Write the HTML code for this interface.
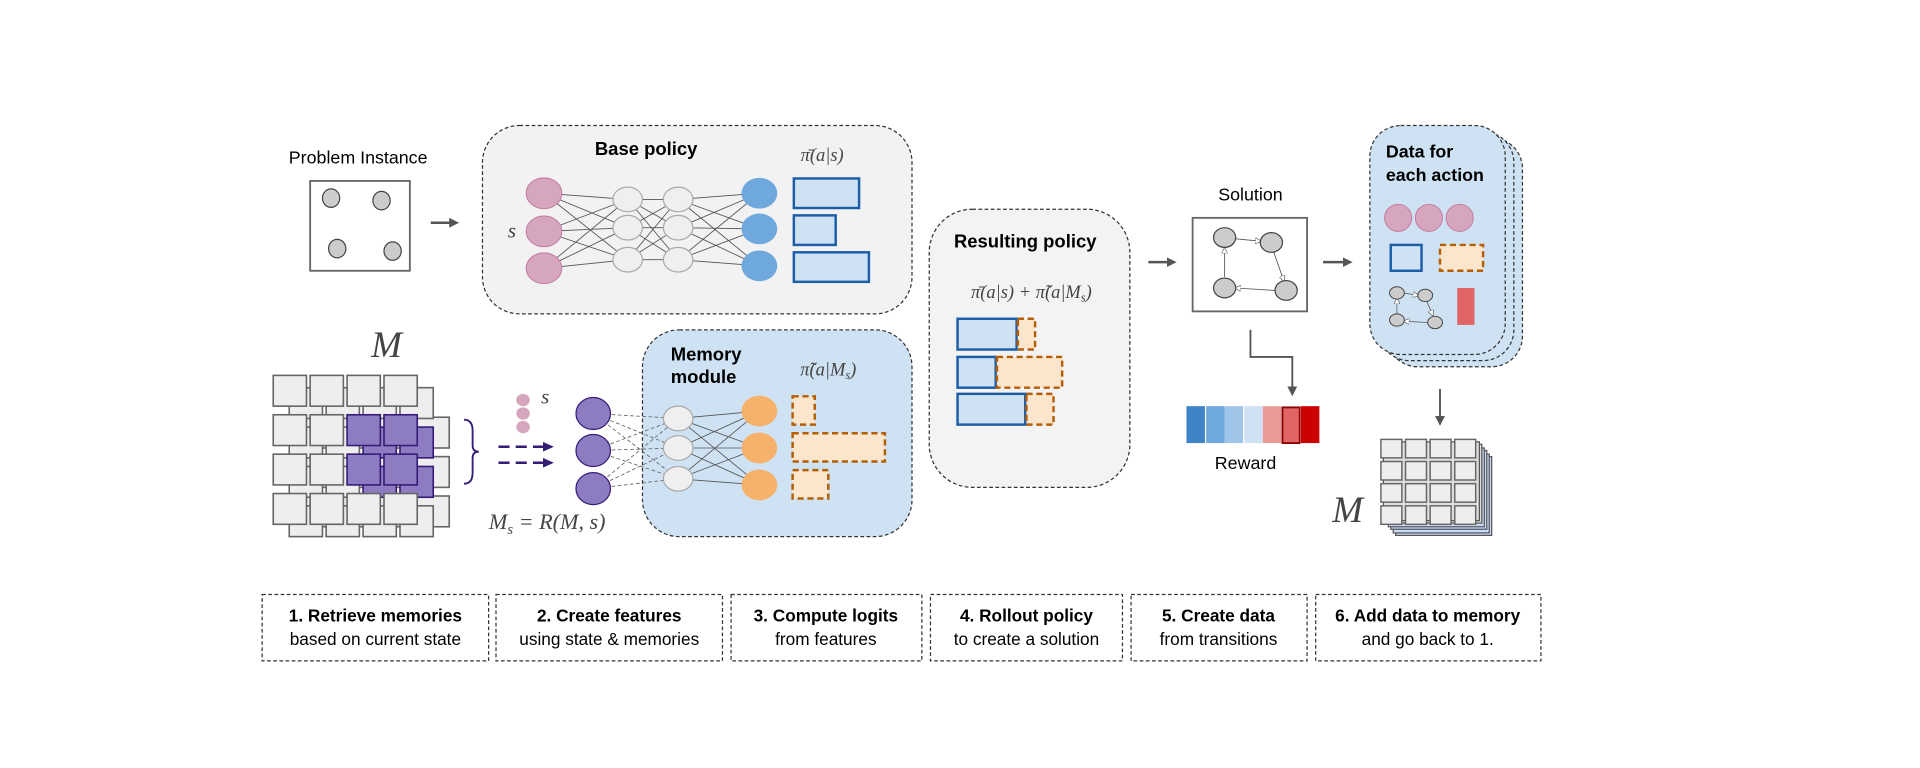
<!DOCTYPE html>
<html><head><meta charset="utf-8"><style>
html,body{margin:0;padding:0;background:#fff;}
svg{display:block;}
text{font-family:"Liberation Sans",sans-serif;}
.m{font-family:"Liberation Serif",serif;font-style:italic;fill:#444;}
</style></head><body>
<svg width="1920" height="768" viewBox="0 0 1560 624" xmlns="http://www.w3.org/2000/svg">
<defs>
<marker id="ar" markerWidth="8" markerHeight="8" refX="6" refY="4" orient="auto" markerUnits="userSpaceOnUse"><path d="M0,0 L8,4 L0,8 z" fill="#555"/></marker>
<marker id="ap" markerWidth="9" markerHeight="8" refX="7" refY="4" orient="auto" markerUnits="userSpaceOnUse"><path d="M0,0 L9,4 L0,8 z" fill="#351c75"/></marker>
<marker id="as" markerWidth="5" markerHeight="5" refX="4" refY="2.5" orient="auto" markerUnits="userSpaceOnUse"><path d="M0,0 L5,2.5 L0,5 z" fill="#fff" stroke="#666" stroke-width="0.6"/></marker>
</defs>

<!-- Problem instance -->
<text x="291" y="133" font-size="14.5" text-anchor="middle">Problem Instance</text>
<rect x="252" y="147" width="81" height="73" fill="#fff" stroke="#666" stroke-width="1.5"/>
<g fill="#ccc" stroke="#444" stroke-width="1">
<ellipse cx="269" cy="161" rx="7" ry="7.5"/><ellipse cx="310" cy="163" rx="7" ry="7.5"/>
<ellipse cx="274" cy="202" rx="7" ry="7.5"/><ellipse cx="319" cy="204" rx="7" ry="7.5"/>
</g>
<line x1="350" y1="181" x2="371" y2="181" stroke="#555" stroke-width="2" marker-end="url(#ar)"/>

<!-- Base policy -->
<rect x="392" y="102" width="349" height="153" rx="30" fill="#f2f2f2" stroke="#333" stroke-dasharray="3,2"/>
<text x="525" y="126" font-size="15" font-weight="bold" text-anchor="middle">Base policy</text>
<text x="668" y="131" font-size="15" class="m" text-anchor="middle">π̄(a|s)</text>
<text x="416" y="193" font-size="17" class="m" text-anchor="middle" fill="#222">s</text>
<g stroke="#555" stroke-width="0.7">
<path d="M442,157L510,162M442,157L510,185M442,157L510,211M442,188L510,162M442,188L510,185M442,188L510,211M442,218L510,162M442,218L510,185M442,218L510,211"/>
<path d="M510,162L551,162M510,162L551,185M510,162L551,211M510,185L551,162M510,185L551,185M510,185L551,211M510,211L551,162M510,211L551,185M510,211L551,211"/>
<path d="M551,162L617,157M551,162L617,186M551,162L617,216M551,185L617,157M551,185L617,186M551,185L617,216M551,211L617,157M551,211L617,186M551,211L617,216"/>
</g>
<g fill="#d5a6bd" stroke="#c27ba0" stroke-width="0.8"><ellipse cx="442" cy="157" rx="14.5" ry="12.5"/><ellipse cx="442" cy="188" rx="14.5" ry="12.5"/><ellipse cx="442" cy="218" rx="14.5" ry="12.5"/></g>
<g fill="#efefef" stroke="#aaa"><ellipse cx="510" cy="162" rx="12" ry="10"/><ellipse cx="510" cy="185" rx="12" ry="10"/><ellipse cx="510" cy="211" rx="12" ry="10"/><ellipse cx="551" cy="162" rx="12" ry="10"/><ellipse cx="551" cy="185" rx="12" ry="10"/><ellipse cx="551" cy="211" rx="12" ry="10"/></g>
<g fill="#6fa8dc"><ellipse cx="617" cy="157" rx="14.5" ry="12.5"/><ellipse cx="617" cy="186" rx="14.5" ry="12.5"/><ellipse cx="617" cy="216" rx="14.5" ry="12.5"/></g>
<g fill="#cfe2f3" stroke="#1c5ea8" stroke-width="2"><rect x="645" y="145" width="53" height="24"/><rect x="645" y="175" width="34" height="24"/><rect x="645" y="205" width="61" height="24"/></g>

<!-- Memory grid left -->
<text x="314" y="290" font-size="30" class="m" fill="#222" text-anchor="middle">M</text>
<g stroke="#666" stroke-width="1.3">
<g transform="translate(26,34)" fill="#eee">
<rect x="222" y="305" width="27" height="25"/><rect x="252" y="305" width="27" height="25"/><rect x="282" y="305" width="27" height="25"/><rect x="312" y="305" width="27" height="25"/>
<rect x="222" y="337" width="27" height="25"/><rect x="252" y="337" width="27" height="25"/><rect x="282" y="337" width="27" height="25"/><rect x="312" y="337" width="27" height="25"/>
<rect x="222" y="369" width="27" height="25"/><rect x="252" y="369" width="27" height="25"/><rect x="282" y="369" width="27" height="25"/><rect x="312" y="369" width="27" height="25"/>
</g>
<g transform="translate(13,10)" fill="#eee">
<rect x="222" y="305" width="27" height="25"/><rect x="252" y="305" width="27" height="25"/><rect x="282" y="305" width="27" height="25"/><rect x="312" y="305" width="27" height="25"/>
<rect x="222" y="337" width="27" height="25"/><rect x="252" y="337" width="27" height="25"/><rect x="282" y="337" width="27" height="25" fill="#8e7cc3" stroke="#351c75"/><rect x="312" y="337" width="27" height="25" fill="#8e7cc3" stroke="#351c75"/>
<rect x="222" y="369" width="27" height="25"/><rect x="252" y="369" width="27" height="25"/><rect x="282" y="369" width="27" height="25" fill="#8e7cc3" stroke="#351c75"/><rect x="312" y="369" width="27" height="25" fill="#8e7cc3" stroke="#351c75"/>
<rect x="222" y="401" width="27" height="25"/><rect x="252" y="401" width="27" height="25"/><rect x="282" y="401" width="27" height="25"/><rect x="312" y="401" width="27" height="25"/>
</g>
<g fill="#eee">
<rect x="222" y="305" width="27" height="25"/><rect x="252" y="305" width="27" height="25"/><rect x="282" y="305" width="27" height="25"/><rect x="312" y="305" width="27" height="25"/>
<rect x="222" y="337" width="27" height="25"/><rect x="252" y="337" width="27" height="25"/><rect x="282" y="337" width="27" height="25" fill="#8e7cc3" stroke="#351c75"/><rect x="312" y="337" width="27" height="25" fill="#8e7cc3" stroke="#351c75"/>
<rect x="222" y="369" width="27" height="25"/><rect x="252" y="369" width="27" height="25"/><rect x="282" y="369" width="27" height="25" fill="#8e7cc3" stroke="#351c75"/><rect x="312" y="369" width="27" height="25" fill="#8e7cc3" stroke="#351c75"/>
<rect x="222" y="401" width="27" height="25"/><rect x="252" y="401" width="27" height="25"/><rect x="282" y="401" width="27" height="25"/><rect x="312" y="401" width="27" height="25"/>
</g>
</g>
<path d="M377,341 Q384,341 384,350 L384,362 Q384,367 389,367 Q384,367 384,372 L384,384 Q384,393 377,393" fill="none" stroke="#351c75" stroke-width="1.5"/>
<text x="492" y="430" font-size="18" class="m" fill="#444" text-anchor="end">M<tspan font-size="12" dy="4">s</tspan><tspan dy="-4"> = R(M, s)</tspan></text>
<g fill="#d5a6bd"><ellipse cx="425" cy="325" rx="5.5" ry="5"/><ellipse cx="425" cy="336" rx="5.5" ry="5"/><ellipse cx="425" cy="347" rx="5.5" ry="5"/></g>
<text x="443" y="328" font-size="17" class="m" fill="#222" text-anchor="middle">s</text>
<g stroke="#351c75" stroke-width="2" stroke-dasharray="9,5"><line x1="405" y1="363" x2="448" y2="363" marker-end="url(#ap)"/><line x1="405" y1="376" x2="448" y2="376" marker-end="url(#ap)"/></g>

<!-- Memory module -->
<rect x="522" y="268" width="219" height="168" rx="30" fill="#cfe2f3" stroke="#333" stroke-dasharray="3,2"/>
<text x="545" y="293" font-size="15" font-weight="bold">Memory</text>
<text x="545" y="311" font-size="15" font-weight="bold">module</text>
<text x="673" y="305" font-size="15" class="m" text-anchor="middle">π̃(a|M<tspan font-size="10" dy="3">s</tspan><tspan dy="-3">)</tspan></text>
<g stroke="#666" stroke-width="0.7" stroke-dasharray="3,2">
<path d="M482,336L551,340M482,336L551,364M482,336L551,389M482,366L551,340M482,366L551,364M482,366L551,389M482,397L551,340M482,397L551,364M482,397L551,389"/>
</g>
<g stroke="#555" stroke-width="0.7"><path d="M551,340L617,334M551,340L617,364M551,340L617,394M551,364L617,334M551,364L617,364M551,364L617,394M551,389L617,334M551,389L617,364M551,389L617,394"/></g>
<g fill="#8e7cc3" stroke="#351c75"><ellipse cx="482" cy="336" rx="14" ry="13"/><ellipse cx="482" cy="366" rx="14" ry="13"/><ellipse cx="482" cy="397" rx="14" ry="13"/></g>
<g fill="#efefef" stroke="#aaa"><ellipse cx="551" cy="340" rx="12" ry="10"/><ellipse cx="551" cy="364" rx="12" ry="10"/><ellipse cx="551" cy="389" rx="12" ry="10"/></g>
<g fill="#f6b26b"><ellipse cx="617" cy="334" rx="14.5" ry="12.5"/><ellipse cx="617" cy="364" rx="14.5" ry="12.5"/><ellipse cx="617" cy="394" rx="14.5" ry="12.5"/></g>
<g fill="#fce5cd" stroke="#b45f06" stroke-width="2" stroke-dasharray="5,3"><rect x="644" y="322" width="18" height="23"/><rect x="644" y="352" width="75" height="23"/><rect x="644" y="382" width="29" height="23"/></g>

<!-- Resulting policy -->
<rect x="755" y="170" width="163" height="226" rx="35" fill="#f3f3f3" stroke="#333" stroke-dasharray="3,2"/>
<text x="833" y="201" font-size="15" font-weight="bold" text-anchor="middle">Resulting policy</text>
<text x="838" y="242" font-size="15" class="m" text-anchor="middle">π̄(a|s) + π̃(a|M<tspan font-size="10" dy="3">s</tspan><tspan dy="-3">)</tspan></text>
<g fill="#cfe2f3" stroke="#1c5ea8" stroke-width="2"><rect x="778" y="259" width="48" height="25"/><rect x="778" y="290" width="31" height="25"/><rect x="778" y="320" width="55" height="25"/></g>
<g fill="#fce5cd" stroke="#b45f06" stroke-width="2" stroke-dasharray="5,3"><rect x="827" y="259" width="14" height="25"/><rect x="810" y="290" width="53" height="25"/><rect x="834" y="320" width="22" height="25"/></g>
<line x1="933" y1="213" x2="954" y2="213" stroke="#555" stroke-width="2" marker-end="url(#ar)"/>

<!-- Solution -->
<text x="1016" y="163" font-size="14.5" text-anchor="middle">Solution</text>
<rect x="969" y="177" width="93" height="76" fill="#fff" stroke="#666" stroke-width="1.5"/>
<g stroke="#555" stroke-width="0.7" fill="none">
<line x1="1004" y1="194" x2="1024" y2="196" marker-end="url(#as)"/>
<line x1="1035" y1="205" x2="1043" y2="228" marker-end="url(#as)"/>
<line x1="1036" y1="236" x2="1004" y2="234" marker-end="url(#as)"/>
<line x1="995" y1="225" x2="995" y2="202" marker-end="url(#as)"/>
</g>
<g fill="#ccc" stroke="#444"><ellipse cx="995" cy="193" rx="9" ry="8"/><ellipse cx="1033" cy="197" rx="9" ry="8"/><ellipse cx="995" cy="234" rx="9" ry="8"/><ellipse cx="1045" cy="236" rx="9" ry="8"/></g>
<line x1="1075" y1="213" x2="1097" y2="213" stroke="#555" stroke-width="2" marker-end="url(#ar)"/>
<path d="M1016,268 L1016,290 L1050,290 L1050,320" fill="none" stroke="#555" stroke-width="1.5" marker-end="url(#ar)"/>

<!-- Reward -->
<rect x="964" y="330" width="15" height="30" fill="#3d85c6"/>
<rect x="980" y="330" width="15" height="30" fill="#6fa8dc"/>
<rect x="995" y="330" width="15" height="30" fill="#9fc5e8"/>
<rect x="1011" y="330" width="15" height="30" fill="#cfe2f3"/>
<rect x="1026" y="330" width="15" height="30" fill="#ea9999"/>
<rect x="1042" y="331" width="14" height="29" fill="#e06666" stroke="#8b0000" stroke-width="1.5"/>
<rect x="1057" y="330" width="15" height="30" fill="#cc0000"/>
<text x="1012" y="381" font-size="14.5" text-anchor="middle">Reward</text>

<!-- Data for each action -->
<rect x="1127" y="112" width="110" height="186" rx="25" fill="#cfe2f3" stroke="#333" stroke-dasharray="3,2"/>
<rect x="1120" y="107" width="110" height="186" rx="25" fill="#cfe2f3" stroke="#333" stroke-dasharray="3,2"/>
<rect x="1113" y="102" width="110" height="186" rx="25" fill="#cfe2f3" stroke="#333" stroke-dasharray="3,2"/>
<text x="1126" y="128" font-size="14.5" font-weight="bold">Data for</text>
<text x="1126" y="147" font-size="14.5" font-weight="bold">each action</text>
<g fill="#d5a6bd" stroke="#c27ba0" stroke-width="0.8"><ellipse cx="1136" cy="177" rx="11" ry="11"/><ellipse cx="1161" cy="177" rx="11" ry="11"/><ellipse cx="1186" cy="177" rx="11" ry="11"/></g>
<rect x="1130" y="199" width="25" height="21" fill="#cfe2f3" stroke="#1c5ea8" stroke-width="2"/>
<rect x="1170" y="199" width="35" height="21" fill="#fce5cd" stroke="#b45f06" stroke-width="2" stroke-dasharray="5,3"/>
<g stroke="#555" stroke-width="0.6" fill="none">
<line x1="1140" y1="238" x2="1152" y2="240" marker-end="url(#as)"/>
<line x1="1159" y1="244" x2="1164" y2="256" marker-end="url(#as)"/>
<line x1="1160" y1="262" x2="1141" y2="261" marker-end="url(#as)"/>
<line x1="1135" y1="255" x2="1135" y2="243" marker-end="url(#as)"/>
</g>
<g fill="#ccc" stroke="#444" stroke-width="0.8"><ellipse cx="1135" cy="238" rx="6" ry="5"/><ellipse cx="1158" cy="240" rx="6" ry="5"/><ellipse cx="1135" cy="260" rx="6" ry="5"/><ellipse cx="1166" cy="262" rx="6" ry="5"/></g>
<rect x="1184" y="234" width="14" height="30" fill="#e06666"/>
<line x1="1170" y1="316" x2="1170" y2="344" stroke="#555" stroke-width="1.5" marker-end="url(#ar)"/>

<!-- Memory grid right -->
<text x="1095" y="424" font-size="30" class="m" fill="#222" text-anchor="middle">M</text>
<g>
<rect x="1134" y="371" width="78" height="64" fill="#c9daf8" stroke="#555"/>
<rect x="1132" y="369" width="78" height="64" fill="#c9daf8" stroke="#555"/>
<rect x="1130" y="366" width="78" height="64" fill="#c9daf8" stroke="#555"/>
<rect x="1128" y="364" width="78" height="64" fill="#c9daf8" stroke="#555"/>
<rect x="1126" y="361" width="78" height="64" fill="#ddd" stroke="#555"/>
<rect x="1124" y="359" width="78" height="64" fill="#ddd" stroke="#555"/>
<g fill="#eee" stroke="#666" stroke-width="1.2">
<rect x="1122" y="357" width="17" height="15"/><rect x="1142" y="357" width="17" height="15"/><rect x="1162" y="357" width="17" height="15"/><rect x="1182" y="357" width="17" height="15"/>
<rect x="1122" y="375" width="17" height="15"/><rect x="1142" y="375" width="17" height="15"/><rect x="1162" y="375" width="17" height="15"/><rect x="1182" y="375" width="17" height="15"/>
<rect x="1122" y="393" width="17" height="15"/><rect x="1142" y="393" width="17" height="15"/><rect x="1162" y="393" width="17" height="15"/><rect x="1182" y="393" width="17" height="15"/>
<rect x="1122" y="411" width="17" height="15"/><rect x="1142" y="411" width="17" height="15"/><rect x="1162" y="411" width="17" height="15"/><rect x="1182" y="411" width="17" height="15"/>
</g>
</g>

<!-- Bottom steps -->
<g fill="none" stroke="#333" stroke-dasharray="3,2">
<rect x="213" y="483" width="184" height="54"/><rect x="403" y="483" width="184" height="54"/><rect x="594" y="483" width="155" height="54"/>
<rect x="756" y="483" width="156" height="54"/><rect x="919" y="483" width="143" height="54"/><rect x="1069" y="483" width="183" height="54"/>
</g>
<g font-size="14" text-anchor="middle">
<text x="305" y="505" font-weight="bold">1. Retrieve memories</text><text x="305" y="524">based on current state</text>
<text x="495" y="505" font-weight="bold">2. Create features</text><text x="495" y="524">using state &amp; memories</text>
<text x="671" y="505" font-weight="bold">3. Compute logits</text><text x="671" y="524">from features</text>
<text x="834" y="505" font-weight="bold">4. Rollout policy</text><text x="834" y="524">to create a solution</text>
<text x="990" y="505" font-weight="bold">5. Create data</text><text x="990" y="524">from transitions</text>
<text x="1160" y="505" font-weight="bold">6. Add data to memory</text><text x="1160" y="524">and go back to 1.</text>
</g>
</svg>
</body></html>
